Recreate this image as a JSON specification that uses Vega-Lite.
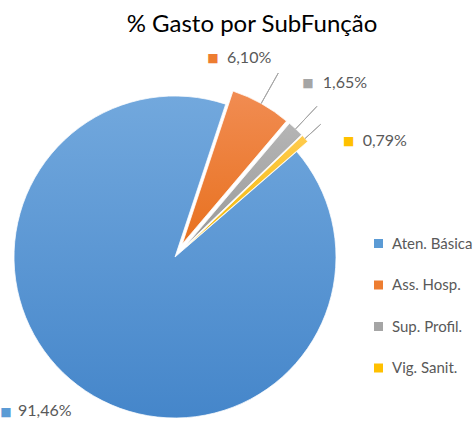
{
  "$schema": "https://vega.github.io/schema/vega-lite/v6.json",
  "width": 322,
  "height": 322,
  "autosize": "none",
  "padding": {"left": 14, "top": 96, "right": 139, "bottom": 3},
  "background": "white",
  "title": {"text": "% Gasto por SubFunção", "font": "Lato", "fontSize": 24, "fontWeight": "normal", "color": "#000000", "anchor": "middle", "frame": "group", "dx": 77, "offset": 13},
  "data": {"values": [
    {"subfuncao": "Aten. Básica", "pct": 0.9146, "ordem": 1},
    {"subfuncao": "Ass. Hosp.", "pct": 0.0610, "ordem": 2},
    {"subfuncao": "Sup. Profil.", "pct": 0.0165, "ordem": 3},
    {"subfuncao": "Vig. Sanit.", "pct": 0.0079, "ordem": 4}
  ]},
  "transform": [
    {"stack": "pct", "groupby": [], "sort": [{"field": "ordem", "order": "ascending"}], "as": ["ini", "fim"]},
    {"calculate": "(datum.ini + datum.fim) / 2", "as": "meio"}
  ],
  "layer": [
    {
      "transform": [{"filter": "datum.ordem == 1"}],
      "mark": {"type": "arc", "stroke": "#ffffff", "strokeWidth": 0.75,
        "fill": {"gradient": "linear", "x1": 0, "y1": 0, "x2": 0, "y2": 1, "stops": [{"offset": 0, "color": "#72A8DD"}, {"offset": 1, "color": "#4586CA"}]}},
      "encoding": {
        "theta": {"field": "ini", "type": "quantitative", "stack": null, "scale": {"domain": [0, 1], "range": [0.857, 7.140]}},
        "theta2": {"field": "fim"}
      }
    },
    {
      "transform": [{"filter": "datum.ordem == 2"}],
      "mark": {"type": "arc", "stroke": "#ffffff", "strokeWidth": 0.75, "xOffset": 7.3, "yOffset": -13.1,
        "fill": {"gradient": "linear", "x1": 0, "y1": 0, "x2": 0, "y2": 1, "stops": [{"offset": 0, "color": "#F18C52"}, {"offset": 1, "color": "#E8711F"}]}},
      "encoding": {
        "theta": {"field": "ini", "type": "quantitative", "stack": null, "scale": {"domain": [0, 1], "range": [0.857, 7.140]}},
        "theta2": {"field": "fim"}
      }
    },
    {
      "transform": [{"filter": "datum.ordem == 3"}],
      "mark": {"type": "arc", "stroke": "#ffffff", "strokeWidth": 0.75, "xOffset": 10.3, "yOffset": -10.9,
        "fill": {"gradient": "linear", "x1": 0, "y1": 0, "x2": 0, "y2": 1, "stops": [{"offset": 0, "color": "#B5B5B5"}, {"offset": 1, "color": "#999999"}]}},
      "encoding": {
        "theta": {"field": "ini", "type": "quantitative", "stack": null, "scale": {"domain": [0, 1], "range": [0.857, 7.140]}},
        "theta2": {"field": "fim"}
      }
    },
    {
      "transform": [{"filter": "datum.ordem == 4"}],
      "mark": {"type": "arc", "stroke": "#ffffff", "strokeWidth": 0.75, "xOffset": 11.1, "yOffset": -10.1,
        "fill": {"gradient": "linear", "x1": 0, "y1": 0, "x2": 0, "y2": 1, "stops": [{"offset": 0, "color": "#FFCB4D"}, {"offset": 1, "color": "#F2B700"}]}},
      "encoding": {
        "theta": {"field": "ini", "type": "quantitative", "stack": null, "scale": {"domain": [0, 1], "range": [0.857, 7.140]}},
        "theta2": {"field": "fim"}
      }
    },
    {
      "transform": [{"filter": "datum.ordem == 2"}],
      "mark": {"type": "arc", "fill": null, "stroke": "#A6A6A6", "strokeWidth": 1, "radius": 196, "radius2": 161, "xOffset": 7.3, "yOffset": -13.1},
      "encoding": {
        "theta": {"field": "meio", "type": "quantitative", "stack": null, "scale": {"domain": [0, 1], "range": [0.857, 7.140]}},
        "theta2": {"field": "meio"}
      }
    },
    {
      "transform": [{"filter": "datum.ordem == 3"}],
      "mark": {"type": "arc", "fill": null, "stroke": "#A6A6A6", "strokeWidth": 1, "radius": 192, "radius2": 161, "xOffset": 10.3, "yOffset": -10.9},
      "encoding": {
        "theta": {"field": "meio", "type": "quantitative", "stack": null, "scale": {"domain": [0, 1], "range": [0.857, 7.140]}},
        "theta2": {"field": "meio"}
      }
    },
    {
      "transform": [{"filter": "datum.ordem == 4"}],
      "mark": {"type": "arc", "fill": null, "stroke": "#A6A6A6", "strokeWidth": 1, "radius": 182, "radius2": 161, "xOffset": 11.1, "yOffset": -10.1},
      "encoding": {
        "theta": {"field": "meio", "type": "quantitative", "stack": null, "scale": {"domain": [0, 1], "range": [0.857, 7.140]}},
        "theta2": {"field": "meio"}
      }
    },
    {
      "transform": [{"filter": "datum.ordem == 1"}],
      "mark": {"type": "text", "text": "■", "font": "DejaVu Sans", "fontSize": 12, "align": "center", "baseline": "middle", "radius": 200, "dx": -58, "dy": -11},
      "encoding": {
        "theta": {"field": "meio", "type": "quantitative", "stack": null, "scale": {"domain": [0, 1], "range": [0.857, 7.140]}},
        "color": {"field": "subfuncao", "type": "nominal", "title": null, "scale": {"domain": ["Aten. Básica", "Ass. Hosp.", "Sup. Profil.", "Vig. Sanit."], "range": ["#5B9BD5", "#ED7D31", "#A5A5A5", "#FFC000"]}}
      }
    },
    {
      "transform": [{"filter": "datum.ordem == 2"}],
      "mark": {"type": "text", "text": "■", "font": "DejaVu Sans", "fontSize": 12, "align": "center", "baseline": "middle", "radius": 200, "dx": -60, "dy": -25},
      "encoding": {
        "theta": {"field": "meio", "type": "quantitative", "stack": null, "scale": {"domain": [0, 1], "range": [0.857, 7.140]}},
        "color": {"field": "subfuncao", "type": "nominal", "title": null, "scale": {"domain": ["Aten. Básica", "Ass. Hosp.", "Sup. Profil.", "Vig. Sanit."], "range": ["#5B9BD5", "#ED7D31", "#A5A5A5", "#FFC000"]}}
      }
    },
    {
      "transform": [{"filter": "datum.ordem == 3"}],
      "mark": {"type": "text", "text": "■", "font": "DejaVu Sans", "fontSize": 12, "align": "center", "baseline": "middle", "radius": 220, "dx": -18, "dy": -14},
      "encoding": {
        "theta": {"field": "meio", "type": "quantitative", "stack": null, "scale": {"domain": [0, 1], "range": [0.857, 7.140]}},
        "color": {"field": "subfuncao", "type": "nominal", "title": null, "scale": {"domain": ["Aten. Básica", "Ass. Hosp.", "Sup. Profil.", "Vig. Sanit."], "range": ["#5B9BD5", "#ED7D31", "#A5A5A5", "#FFC000"]}}
      }
    },
    {
      "transform": [{"filter": "datum.ordem == 4"}],
      "mark": {"type": "text", "text": "■", "font": "DejaVu Sans", "fontSize": 12, "align": "center", "baseline": "middle", "radius": 220, "dx": 11, "dy": 32},
      "encoding": {
        "theta": {"field": "meio", "type": "quantitative", "stack": null, "scale": {"domain": [0, 1], "range": [0.857, 7.140]}},
        "color": {"field": "subfuncao", "type": "nominal", "title": null, "scale": {"domain": ["Aten. Básica", "Ass. Hosp.", "Sup. Profil.", "Vig. Sanit."], "range": ["#5B9BD5", "#ED7D31", "#A5A5A5", "#FFC000"]}}
      }
    },
    {
      "transform": [{"filter": "datum.ordem == 1"}],
      "mark": {"type": "text", "font": "Lato", "fontSize": 16, "color": "#595959", "align": "left", "baseline": "middle", "radius": 200, "dx": -46, "dy": -12},
      "encoding": {
        "theta": {"field": "meio", "type": "quantitative", "stack": null, "scale": {"domain": [0, 1], "range": [0.857, 7.140]}},
        "text": {"field": "pct", "type": "quantitative", "format": ".2%"}
      }
    },
    {
      "transform": [{"filter": "datum.ordem == 2"}],
      "mark": {"type": "text", "font": "Lato", "fontSize": 16, "color": "#595959", "align": "left", "baseline": "middle", "radius": 200, "dx": -46, "dy": -25},
      "encoding": {
        "theta": {"field": "meio", "type": "quantitative", "stack": null, "scale": {"domain": [0, 1], "range": [0.857, 7.140]}},
        "text": {"field": "pct", "type": "quantitative", "format": ".2%"}
      }
    },
    {
      "transform": [{"filter": "datum.ordem == 3"}],
      "mark": {"type": "text", "font": "Lato", "fontSize": 16, "color": "#595959", "align": "left", "baseline": "middle", "radius": 220, "dx": -3, "dy": -14},
      "encoding": {
        "theta": {"field": "meio", "type": "quantitative", "stack": null, "scale": {"domain": [0, 1], "range": [0.857, 7.140]}},
        "text": {"field": "pct", "type": "quantitative", "format": ".2%"}
      }
    },
    {
      "transform": [{"filter": "datum.ordem == 4"}],
      "mark": {"type": "text", "font": "Lato", "fontSize": 16, "color": "#595959", "align": "left", "baseline": "middle", "radius": 220, "dx": 25, "dy": 32},
      "encoding": {
        "theta": {"field": "meio", "type": "quantitative", "stack": null, "scale": {"domain": [0, 1], "range": [0.857, 7.140]}},
        "text": {"field": "pct", "type": "quantitative", "format": ".2%"}
      }
    }
  ],
  "config": {
    "view": {"stroke": null},
    "locale": {"number": {"decimal": ",", "thousands": ".", "grouping": [3], "currency": ["R$ ", ""]}},
    "legend": {"orient": "none", "legendX": 357, "legendY": 140, "symbolType": "square", "symbolSize": 81, "symbolStrokeWidth": 0, "labelFont": "Lato", "labelFontSize": 15, "labelColor": "#595959", "rowPadding": 25.5, "labelOffset": 6, "padding": 0}
  }
}
